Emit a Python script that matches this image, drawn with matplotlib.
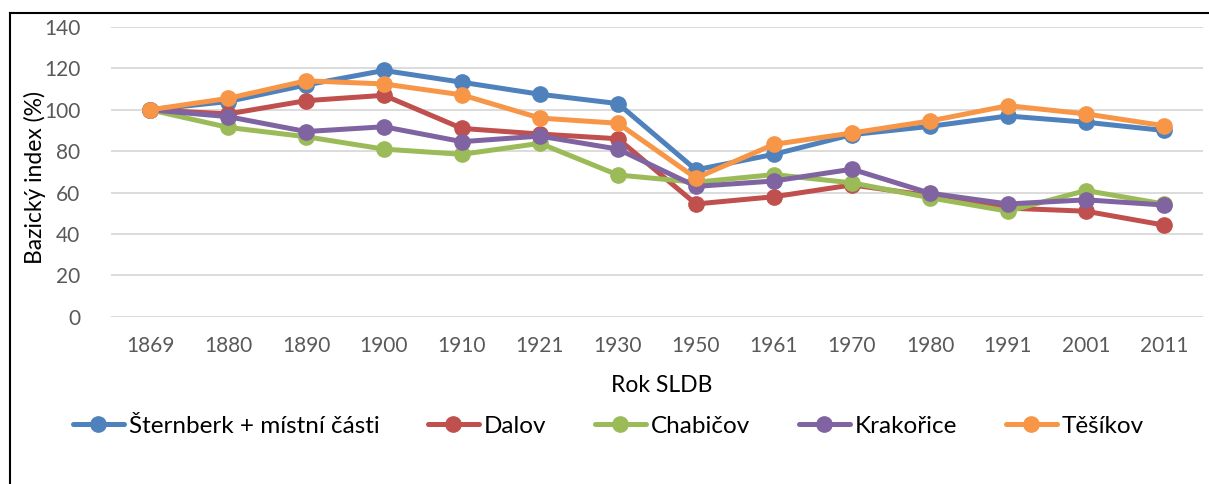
import matplotlib.pyplot as plt
from matplotlib.lines import Line2D

# === Data ===
years = ["1869", "1880", "1890", "1900", "1910", "1921", "1930",
         "1950", "1961", "1970", "1980", "1991", "2001", "2011"]

sternberk = [100, 104, 112, 119, 113.3, 107.5, 103, 71, 78.5, 88, 92, 97, 94, 90]
dalov = [100, 98, 104.4, 107, 91, 88.3, 86, 54.5, 58, 63.7, 58.5, 52.5, 51, 44.3]
chabicov = [100, 91.5, 87, 81, 78.5, 83.8, 68.5, 65, 68.7, 64.7, 57.5, 51, 61, 54.5]
krakorice = [100, 96.7, 89.5, 91.8, 84.6, 87.3, 81, 63, 65.6, 71.3, 59.7, 54.5, 56.5, 54]
tesikov = [100, 105.5, 114, 112.5, 107.2, 96, 93.5, 67, 83.3, 88.8, 94.6, 102, 98, 92.3]

series = [
    ("Šternberk + místní části", sternberk, "#4F81BD"),
    ("Dalov", dalov, "#C0504D"),
    ("Chabičov", chabicov, "#9BBB59"),
    ("Krakořice", krakorice, "#8064A2"),
    ("Těšíkov", tesikov, "#F79646"),
]

plt.rcParams['font.family'] = ['Lato', 'DejaVu Sans']

fig = plt.figure(figsize=(12.09, 4.84), dpi=100)
ax = fig.add_axes([0.0918, 0.3455, 0.9032, 0.5987])

x = range(len(years))
for name, vals, color in series:
    ax.plot(x, vals, color=color, lw=3.6, marker="o", ms=11, label=name,
            solid_capstyle="round")

# === Axes ===
ax.set_xlim(-0.5, len(years) - 0.5)
ax.set_ylim(0, 140)
ax.set_yticks(range(0, 141, 20))
ax.set_xticks(list(x))
ax.set_xticklabels(years)
ax.grid(axis="y", color="#D9D9D9", lw=1.3)
ax.set_axisbelow(True)
for s in ax.spines.values():
    s.set_visible(False)
ax.tick_params(length=0, labelsize=15, colors="#595959", pad=14)
ax.tick_params(axis="y", pad=22)

fig.text(0.5475, 1 - 385 / 484, "Rok SLDB", ha="center", va="center", fontsize=16.5)
fig.text(35 / 1209, 1 - 178 / 484, "Bazický index (%)", ha="center", va="center",
         rotation=90, fontsize=16.5)

# === Legend ===
fig.legend(loc="center", bbox_to_anchor=(0.503, 1 - 426 / 484), ncol=5,
           frameon=False, fontsize=17.5, handlelength=2.1, handletextpad=0.2,
           columnspacing=2.0)

# === Outer frame ===
fig.add_artist(Line2D([9.5 / 1209, 9.5 / 1209], [0, 1 - 13 / 484],
                      transform=fig.transFigure, color="black", lw=1.5))
fig.add_artist(Line2D([9.5 / 1209, 1], [1 - 13 / 484, 1 - 13 / 484],
                      transform=fig.transFigure, color="black", lw=1.5))

fig.savefig("out.png", dpi=100)
